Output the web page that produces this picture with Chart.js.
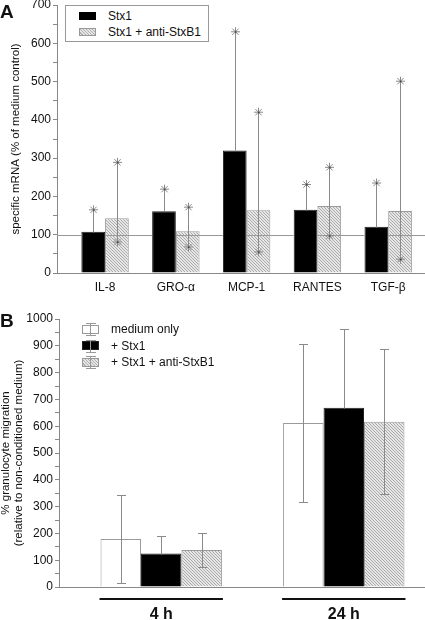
<!DOCTYPE html>
<html>
<head>
<meta charset="utf-8">
<script src="https://cdn.jsdelivr.net/npm/chart.js@4.4.1/dist/chart.umd.min.js"></script>
<style>
  body { margin: 0; background: #fff; width: 425px; height: 620px; position: relative; overflow: hidden;
         font-family: "Liberation Sans", Arial, sans-serif; color: #111; }
  canvas { position: absolute; left: 0; }
  #chartA { top: 0; }
  #chartB { top: 300px; }
  .panel { position: absolute; left: 0; font-weight: bold; font-size: 19px; line-height: 19px; }
  .txt { position: absolute; font-size: 12px; line-height: 12px; white-space: nowrap; }
  .sw { position: absolute; box-sizing: border-box; }
  .hatch { background: repeating-linear-gradient(45deg, #e6e6e6 0 1.4px, #b0b0b0 1.4px 2.2px); border: 1px solid #999; }
  #legA { position: absolute; left: 65px; top: 5px; width: 144px; height: 37px; border: 1px solid #999; box-sizing: border-box; background: #fff; }
  .ibeam { position: absolute; width: 1px; background: #999; }
  .cap { position: absolute; height: 1px; width: 10px; background: #999; }
</style>
</head>
<body>
<canvas id="chartA" width="425" height="300"></canvas>
<canvas id="chartB" width="425" height="320"></canvas>

<div class="panel" style="top:2px">A</div>
<div class="panel" style="top:311px">B</div>

<div id="legA">
  <div class="sw" style="left:13px;top:6px;width:17px;height:8px;background:#000"></div>
  <div class="txt" style="left:42px;top:4px">Stx1</div>
  <div class="sw hatch" style="left:13px;top:22px;width:17px;height:8px"></div>
  <div class="txt" style="left:42px;top:20px">Stx1 + anti-StxB1</div>
</div>

<div id="legB"></div>

<script>
// panel A: mRNA expression, % of medium control
const genes = ['IL-8', 'GRO-α', 'MCP-1', 'RANTES', 'TGF-β'];
const stx1Mean = [108, 161, 320, 165, 121];
const stx1Upper = [165, 219, 630, 231, 235];
const blockMean = [143, 109, 164, 175, 162];
const blockUpper = [289, 172, 420, 276, 501];
const blockLower = [81, 68, 55, 97, 36];
const ticksA = [0, 100, 200, 300, 400, 500, 600, 700];

// panel B: granulocyte migration
const timePoints = ['4 h', '24 h'];
const mediumMean = [179, 612];
const mediumSd = [163, 294];
const stxMean = [125, 669];
const stxSd = [64, 295];
const antiMean = [138, 617];
const antiSd = [63, 270];
const ticksB = [0, 100, 200, 300, 400, 500, 600, 700, 800, 900, 1000];

const legendB = ['medium only', '+ Stx1', '+ Stx1 + anti-StxB1'];

Chart.defaults.font.family = '"Liberation Sans", Arial, sans-serif';
Chart.defaults.color = '#111';

function hatchPattern() {
    const c = document.createElement('canvas');
    c.width = 3; c.height = 3;
    const g = c.getContext('2d');
    g.fillStyle = '#e6e6e6';
    g.fillRect(0, 0, 3, 3);
    g.fillStyle = '#ababab';
    for (let i = 0; i < 3; i++) g.fillRect(i, i, 1, 1);
    return g.createPattern(c, 'repeat');
}
const hatch = hatchPattern();

function asPoints(arr) {
    return arr.map((v, i) => ({ x: i, y: v }));
}

function drawStar(ctx, x, y, r) {
    ctx.beginPath();
    for (let k = 0; k < 4; k++) {
        const a = k * Math.PI / 4;
        ctx.moveTo(x - r * Math.cos(a), y - r * Math.sin(a));
        ctx.lineTo(x + r * Math.cos(a), y + r * Math.sin(a));
    }
    ctx.stroke();
    ctx.fillStyle = '#444';
    ctx.fillRect(x - 0.5, y - 0.5, 1.5, 1.5);
}

// whiskers: upper/lower values sit on the dataset, drawn with the y scale
const whiskers = {
    id: 'whiskers',
    afterDatasetsDraw(chart, args, opts) {
        const ctx = chart.ctx;
        const yScale = chart.scales.y;
        ctx.save();
        ctx.strokeStyle = '#8a8a8a';
        ctx.lineWidth = 1;
        chart.data.datasets.forEach((ds, di) => {
            if (!ds.upper) return;
            chart.getDatasetMeta(di).data.forEach((bar, i) => {
                const x = Math.round(bar.x) + 0.5;
                const yTop = yScale.getPixelForValue(ds.upper[i]);
                const yLow = ds.lower ? yScale.getPixelForValue(ds.lower[i]) : bar.y;
                ctx.beginPath();
                ctx.moveTo(x, Math.round(yLow) + 0.5);
                ctx.lineTo(x, Math.round(yTop) + 0.5);
                ctx.stroke();
                if (opts.marker === 'star') {
                    drawStar(ctx, x, yTop, 4.5);
                    if (ds.lower) drawStar(ctx, x, yLow, 4.5);
                } else {
                    const ends = ds.lower ? [yTop, yLow] : [yTop];
                    ends.forEach(yy => {
                        ctx.beginPath();
                        ctx.moveTo(x - 4.5, Math.round(yy) + 0.5);
                        ctx.lineTo(x + 4.5, Math.round(yy) + 0.5);
                        ctx.stroke();
                    });
                }
            });
        });
        ctx.restore();
    }
};

// line at 100 % (medium control), hidden behind the black bars
const controlLine = {
    id: 'controlLine',
    afterDatasetsDraw(chart) {
        const ctx = chart.ctx;
        const area = chart.chartArea;
        const y = Math.round(chart.scales.y.getPixelForValue(100)) + 0.5;
        const blocks = chart.getDatasetMeta(0).data.map(b => [b.x - b.width / 2, b.x + b.width / 2]);
        ctx.save();
        ctx.strokeStyle = '#999';
        ctx.lineWidth = 1;
        ctx.beginPath();
        let from = area.left;
        blocks.forEach(([l, r]) => {
            ctx.moveTo(from, y);
            ctx.lineTo(l, y);
            from = r;
        });
        ctx.moveTo(from, y);
        ctx.lineTo(area.right, y);
        ctx.stroke();
        ctx.restore();
    }
};

// thick bar under each time point group
const groupLines = {
    id: 'groupLines',
    afterDraw(chart) {
        const ctx = chart.ctx;
        const first = chart.getDatasetMeta(0).data;
        const last = chart.getDatasetMeta(chart.data.datasets.length - 1).data;
        const y = chart.chartArea.bottom + 12;
        ctx.save();
        ctx.strokeStyle = '#111';
        ctx.lineWidth = 2;
        first.forEach((b, i) => {
            ctx.beginPath();
            ctx.moveTo(b.x - b.width / 2 - 1, y);
            ctx.lineTo(last[i].x + last[i].width / 2 + 1, y);
            ctx.stroke();
        });
        ctx.restore();
    }
};

function yAxis(max, width, labels, title, titlePad) {
    return {
        min: 0, max: max,
        ticks: {
            stepSize: 50, autoSkip: false, padding: 2,
            font: { size: 12 },
            callback: v => labels.includes(v) ? String(v) : ''
        },
        grid: { drawOnChartArea: false, color: '#888', tickLength: 4 },
        border: { color: '#888' },
        title: { display: true, text: title, font: { size: 11.5, lineHeight: 1.1 }, padding: { top: titlePad, bottom: 0 } },
        afterFit: s => { s.width = width; s.paddingTop = 0; s.paddingBottom = 0; }
    };
}

function xAxis(min, max, labels, height, font, pad) {
    return {
        type: 'linear', offset: false, min: min, max: max,
        afterBuildTicks: s => { s.ticks = labels.map((_, i) => ({ value: i })); },
        ticks: { autoSkip: false, maxRotation: 0, padding: pad, font: font, callback: v => labels[v] },
        grid: { display: false, drawTicks: false },
        border: { color: '#888' },
        afterFit: s => { s.height = height; s.paddingLeft = 0; s.paddingRight = 0; }
    };
}

new Chart(document.getElementById('chartA'), {
    type: 'bar',
    data: {
        datasets: [
            { label: 'Stx1', data: asPoints(stx1Mean), upper: stx1Upper,
              backgroundColor: '#000', borderColor: '#222', borderWidth: 1 },
            { label: 'Stx1 + anti-StxB1', data: asPoints(blockMean), upper: blockUpper, lower: blockLower,
              backgroundColor: hatch, borderColor: '#9a9a9a', borderWidth: 1 }
        ]
    },
    options: {
        responsive: false, maintainAspectRatio: false, animation: false,
        layout: { padding: { top: 5, left: 0, right: 0, bottom: 0 } },
        datasets: { bar: { categoryPercentage: 0.67, barPercentage: 1 } },
        scales: {
            x: xAxis(-0.679, 4.52, genes, 27, { size: 12 }, 7),
            y: yAxis(700, 57, ticksA, 'specific mRNA (% of medium control)', 10)
        },
        plugins: { legend: { display: false }, tooltip: { enabled: false }, whiskers: { marker: 'star' } }
    },
    plugins: [controlLine, whiskers]
});

new Chart(document.getElementById('chartB'), {
    type: 'bar',
    data: {
        datasets: [
            { label: legendB[0], data: asPoints(mediumMean),
              upper: mediumMean.map((m, i) => m + mediumSd[i]), lower: mediumMean.map((m, i) => m - mediumSd[i]),
              backgroundColor: '#fff', borderColor: '#9a9a9a', borderWidth: 1 },
            { label: legendB[1], data: asPoints(stxMean),
              upper: stxMean.map((m, i) => m + stxSd[i]),
              backgroundColor: '#000', borderColor: '#222', borderWidth: 1 },
            { label: legendB[2], data: asPoints(antiMean),
              upper: antiMean.map((m, i) => m + antiSd[i]), lower: antiMean.map((m, i) => m - antiSd[i]),
              backgroundColor: hatch, borderColor: '#9a9a9a', borderWidth: 1 }
        ]
    },
    options: {
        responsive: false, maintainAspectRatio: false, animation: false,
        layout: { padding: { top: 19, left: 0, right: 0, bottom: 0 } },
        datasets: { bar: { categoryPercentage: 0.665, barPercentage: 1 } },
        scales: {
            x: xAxis(-0.56, 1.445, timePoints, 33, { size: 16, weight: 'bold' }, 18),
            y: yAxis(1000, 59, ticksB, ['% granulocyte migration', '(relative to non-conditioned medium)'], 0)
        },
        plugins: { legend: { display: false }, tooltip: { enabled: false }, whiskers: { marker: 'cap' } }
    },
    plugins: [whiskers, groupLines]
});

// HTML legend for panel B (swatch with error-bar glyph)
const legB = document.getElementById('legB');
const swStyles = ['background:#fff;border:1px solid #999', 'background:#000;border:1px solid #222', ''];
legendB.forEach((name, i) => {
    const cy = 329 + i * 16.6;
    const sw = document.createElement('div');
    sw.className = 'sw' + (i === 2 ? ' hatch' : '');
    sw.style.cssText += `left:82px;top:${cy - 4.5}px;width:17px;height:9px;${swStyles[i]}`;
    legB.appendChild(sw);
    const bar = document.createElement('div');
    bar.className = 'ibeam';
    bar.style.cssText = `left:90px;top:${cy - 6}px;height:12px`;
    legB.appendChild(bar);
    [cy - 6, cy + 6].forEach(y => {
        const c = document.createElement('div');
        c.className = 'cap';
        c.style.cssText = `left:85.5px;top:${y}px`;
        legB.appendChild(c);
    });
    const t = document.createElement('div');
    t.className = 'txt';
    t.style.cssText = `left:111px;top:${cy - 6}px`;
    t.textContent = name;
    legB.appendChild(t);
});
</script>
</body>
</html>
